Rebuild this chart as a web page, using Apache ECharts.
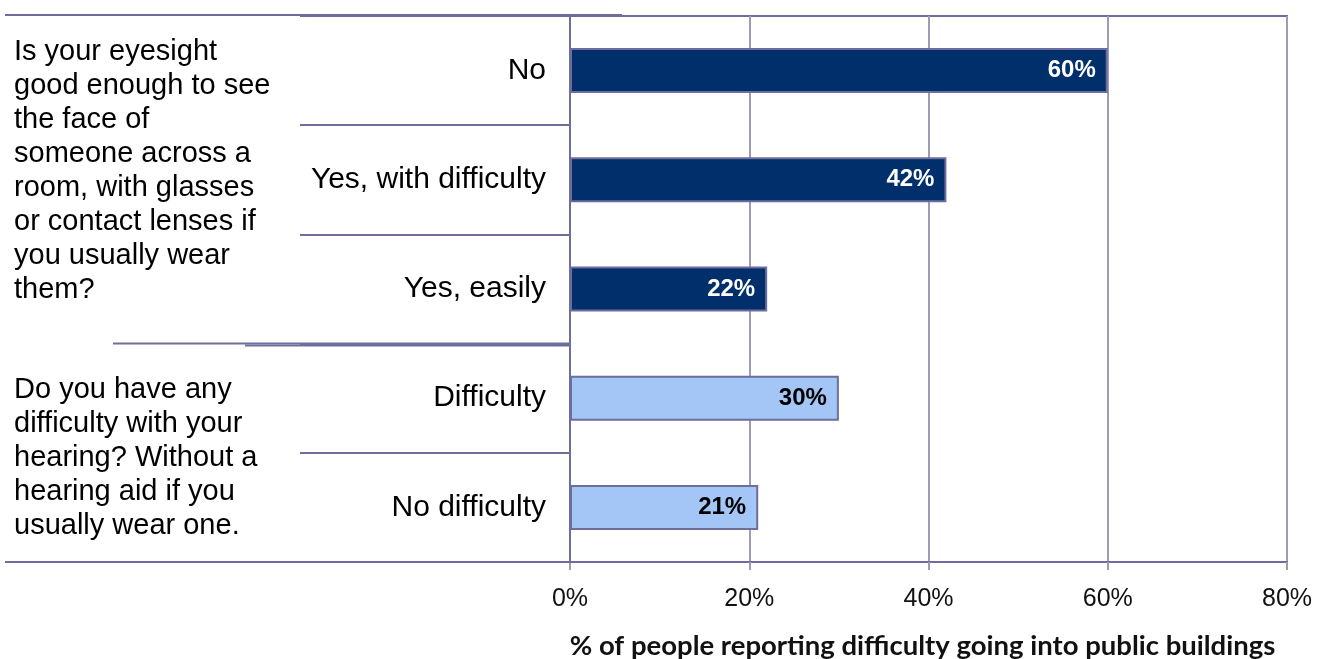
<!DOCTYPE html>
<html>
<head>
<meta charset="utf-8">
<script src="https://cdn.jsdelivr.net/npm/echarts@6/dist/echarts.min.js"></script>
<style>
  html, body { margin: 0; padding: 0; background: #ffffff; }
  #chart { width: 1334px; height: 659px; }
</style>
</head>
<body>
<div id="chart"></div>
<script>
// Survey answers and the share of each group reporting difficulty
const categories = ['No', 'Yes, with difficulty', 'Yes, easily', 'Difficulty', 'No difficulty'];
const values = [60, 42, 22, 30, 21];
const groupOf = ['sight', 'sight', 'sight', 'hearing', 'hearing'];
const xTicks = [0, 20, 40, 60, 80];
const questions = [
  { group: 'sight', firstRow: 0, text: 'Is your eyesight\ngood enough to see\nthe face of\nsomeone across a\nroom, with glasses\nor contact lenses if\nyou usually wear\nthem?' },
  { group: 'hearing', firstRow: 3, text: 'Do you have any\ndifficulty with your\nhearing? Without a\nhearing aid if you\nusually wear one.' }
];
const axisTitle = '% of people reporting difficulty going into public buildings';

const groupStyle = {
  sight: { fill: '#002f6c', label: '#ffffff' },
  hearing: { fill: '#a3c6f6', label: '#000000' }
};
const frameColor = '#6e6e9e';
const gridColor = '#9c9cb6';
const font = '"Liberation Sans", Arial, sans-serif';

const chart = echarts.init(document.getElementById('chart'));

chart.setOption({
  animation: false,
  grid: {
    left: 570, right: 47, top: 16, bottom: 97,
    containLabel: false,
    outerBoundsMode: 'none',
    show: true, borderColor: frameColor, borderWidth: 2, backgroundColor: 'transparent'
  },
  xAxis: {
    type: 'value',
    min: xTicks[0], max: xTicks[xTicks.length - 1], interval: xTicks[1] - xTicks[0],
    axisLine: { show: true, lineStyle: { color: frameColor, width: 2 } },
    axisTick: { show: true, length: 8, lineStyle: { color: gridColor, width: 2 } },
    splitLine: { show: true, lineStyle: { color: gridColor, width: 2 } },
    axisLabel: {
      formatter: '{value}%', color: '#111', fontFamily: font, fontSize: 25, margin: 25
    },
    name: axisTitle,
    nameLocation: 'middle',
    nameGap: 70,
    nameTextStyle: {
      fontFamily: 'Lato, "Open Sans", sans-serif', fontWeight: 'bold', fontSize: 27.5,
      color: '#111', padding: [0, 12, 0, 0]
    }
  },
  yAxis: {
    type: 'category',
    data: categories,
    inverse: true,
    axisLine: { show: true, lineStyle: { color: frameColor, width: 2 } },
    axisTick: { show: true, length: 270, lineStyle: { color: frameColor, width: 2 } },
    splitLine: { show: false },
    axisLabel: { color: '#000', fontFamily: font, fontSize: 30, margin: 24 }
  },
  series: [{
    type: 'bar',
    barWidth: 45,
    data: values.map((v, i) => ({
      value: v,
      itemStyle: { color: groupStyle[groupOf[i]].fill },
      label: { color: groupStyle[groupOf[i]].label }
    })),
    itemStyle: { borderColor: frameColor, borderWidth: 2 },
    label: {
      show: true,
      position: 'insideRight',
      distance: 12,
      formatter: '{c}%',
      fontFamily: font,
      fontWeight: 'bold',
      fontSize: 24
    }
  }]
});

// Question texts and the long divider lines in the label column
function drawSideNotes() {
  const yAt = i => chart.convertToPixel({ yAxisIndex: 0 }, i);
  const band = yAt(1) - yAt(0);
  const top = yAt(0) - band / 2;
  const bottom = yAt(categories.length - 1) + band / 2;
  const split = yAt(3) - band / 2;
  const x0 = chart.convertToPixel({ xAxisIndex: 0 }, 0);

  const lineStyle = { stroke: frameColor, lineWidth: 2 };
  const elements = [
    { type: 'line', shape: { x1: 5, y1: top - 1, x2: x0 + 52, y2: top - 1 }, style: lineStyle, z: 10 },
    { type: 'line', shape: { x1: 5, y1: bottom, x2: x0 + 52, y2: bottom }, style: lineStyle, z: 10 },
    { type: 'line', shape: { x1: 113, y1: split, x2: x0, y2: split }, style: lineStyle, z: 10 },
    { type: 'line', shape: { x1: 245, y1: split + 2, x2: x0, y2: split + 2 }, style: lineStyle, z: 10 }
  ];
  questions.forEach(q => {
    const rowTop = yAt(q.firstRow) - band / 2;
    elements.push({
      type: 'text',
      x: 14,
      y: rowTop + (q.firstRow === 0 ? 19 : 29),
      style: {
        text: q.text,
        fontFamily: font,
        fontSize: 29,
        lineHeight: 34,
        fill: '#000',
        verticalAlign: 'top',
        align: 'left'
      },
      z: 10
    });
  });
  chart.setOption({ graphic: { elements } });
}
drawSideNotes();
</script>
</body>
</html>
